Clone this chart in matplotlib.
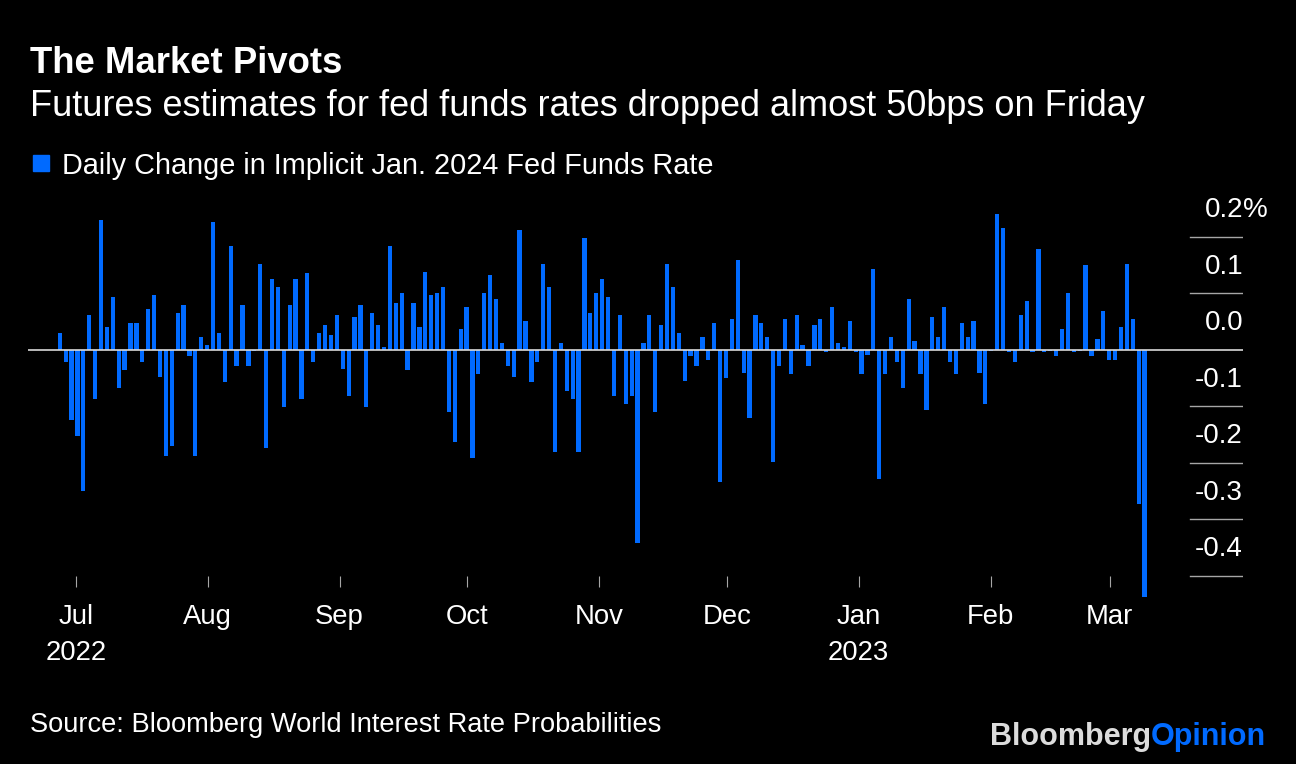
import numpy as np
import pandas as pd
import matplotlib
matplotlib.use('Agg')
import matplotlib.pyplot as plt
import matplotlib.dates as mdates
from matplotlib.patches import Rectangle

plt.rcParams['font.family'] = ['Liberation Sans', 'DejaVu Sans']

BG      = '#000000'
BLUE    = '#006aff'
TXT     = '#ffffff'
ZERO    = '#d9d9d9'
GRID    = '#a6a6a6'

# one bar per weekday, 27 Jun 2022 -> 10 Mar 2023
dates = pd.bdate_range('2022-06-27', '2023-03-10')

# daily change in implied Jan 2024 fed funds rate (pct points)
daily_change = [
    0.029, -0.023, -0.125, -0.153, -0.251, 0.061, -0.087, 0.229, 0.040, 0.093,
    -0.069, -0.037, 0.047, 0.047, -0.023, 0.071, 0.096, -0.048, -0.188, -0.171,
    0.064, 0.078, -0.012, -0.188, 0.022, 0.008, 0.226, 0.029, -0.058, 0.183,
    -0.030, 0.078, -0.030, -0.002, 0.152, -0.174, 0.124, 0.110, -0.101, 0.078,
    0.124, -0.087, 0.135, -0.023, 0.029, 0.043, 0.025, 0.061, -0.034, -0.083,
    0.057, 0.078, -0.101, 0.064, 0.043, 0.005, 0.183, 0.082, 0.100, -0.037,
    0.082, 0.040, 0.138, 0.096, 0.100, 0.110, -0.111, -0.163, 0.036, 0.075,
    -0.192, -0.044, 0.100, 0.131, 0.089, 0.011, -0.030, -0.048, 0.212, 0.050,
    -0.058, -0.023, 0.152, 0.110, -0.182, 0.011, -0.073, -0.087, -0.182, 0.198,
    0.064, 0.100, 0.124, 0.093, -0.083, 0.061, -0.097, -0.083, -0.343, 0.011,
    0.061, -0.111, 0.043, 0.152, 0.110, 0.029, -0.055, -0.012, -0.030, 0.022,
    -0.019, 0.047, -0.234, -0.051, 0.054, 0.159, -0.041, -0.122, 0.061, 0.047,
    0.022, -0.199, -0.030, 0.054, -0.044, 0.061, 0.008, -0.030, 0.043, 0.054,
    -0.005, 0.075, 0.011, 0.004, 0.050, -0.005, -0.044, -0.009, 0.142, -0.230,
    -0.044, 0.022, -0.023, -0.069, 0.089, 0.015, -0.044, -0.107, 0.057, 0.022,
    0.075, -0.023, -0.044, 0.047, 0.022, 0.050, -0.041, -0.097, -0.002, 0.240,
    0.215, -0.005, -0.023, 0.061, 0.086, -0.005, 0.177, -0.005, -0.002, -0.012,
    0.036, 0.100, -0.005, -0.002, 0.149, -0.012, 0.018, 0.068, -0.019, -0.019,
    0.040, 0.152, 0.054, -0.273, -0.438,
]

y_ticks  = [0.2, 0.1, 0.0, -0.1, -0.2, -0.3, -0.4]
months   = pd.date_range('2022-07-01', '2023-03-01', freq='MS')
month_labels = ['Jul\n2022', 'Aug', 'Sep', 'Oct', 'Nov', 'Dec', 'Jan\n2023', 'Feb', 'Mar']

fig = plt.figure(figsize=(12.96, 7.64), dpi=100, facecolor=BG)
ax = fig.add_axes([28/1296, 1 - 587/764, 1215/1296, 387/764], facecolor=BG)

# bars are spread evenly over the date range (no weekend gaps)
x = np.linspace(mdates.date2num(dates[0]) + 0.25,
                mdates.date2num(dates[-1]) - 0.8, len(dates))
ax.bar(x, daily_change, width=1.0, color=BLUE, clip_on=False, zorder=2)

jul1 = mdates.date2num(pd.Timestamp('2022-07-01'))
ax.set_xlim(jul1 - 47.7/4.255, jul1 + 1167.3/4.255)
ax.set_ylim(-237.5/565, 149.5/565)

ax.axhline(0, color=ZERO, lw=1.2, zorder=3)
for v in y_ticks:
    if v != 0:
        ax.axhline(v, xmin=1162/1215, xmax=1.0, color=GRID, lw=1.0)
    lbl = f'{v:.1f}'
    ax.annotate(lbl, xy=(1, v), xycoords=('axes fraction', 'data'),
                xytext=(0, 19), textcoords='offset points',
                ha='right', va='center', color=TXT, fontsize=20)
    if v == 0.2:
        ax.annotate('%', xy=(1, v), xycoords=('axes fraction', 'data'),
                    xytext=(0, 19), textcoords='offset points',
                    ha='left', va='center', color=TXT, fontsize=20)

ax.set_xticks(mdates.date2num(months))
ax.set_xticklabels(month_labels, linespacing=1.5)
ax.tick_params(axis='x', direction='in', length=8, width=0.8, color=GRID,
               labelcolor=TXT, labelsize=19.8, pad=12)
ax.set_yticks([])
for s in ax.spines.values():
    s.set_visible(False)

fig.text(30/1296, 1 - 73/764, 'The Market Pivots', color=TXT,
         fontsize=26.3, fontweight='bold', va='baseline')
fig.text(30/1296, 1 - 116/764,
         'Futures estimates for fed funds rates dropped almost 50bps on Friday',
         color=TXT, fontsize=26, va='baseline')

fig.patches.append(Rectangle((33/1296, 1 - 171/764), 16/1296, 16/764,
                             transform=fig.transFigure, color=BLUE))
fig.text(62/1296, 1 - 174/764, 'Daily Change in Implicit Jan. 2024 Fed Funds Rate',
         color=TXT, fontsize=20.8, va='baseline')

fig.text(30/1296, 1 - 732/764, 'Source: Bloomberg World Interest Rate Probabilities',
         color=TXT, fontsize=19.6, va='baseline')

logo = fig.text(990/1296, 1 - 745/764, 'Bloomberg', color='#dcdcdc',
                fontsize=22, fontweight='bold', va='baseline')
fig.canvas.draw()
bb = logo.get_window_extent()
fig.text(bb.x1 / 1296, 1 - 745/764, 'Opinion', color=BLUE,
         fontsize=22, fontweight='bold', va='baseline')

fig.savefig('out.png', dpi=100, facecolor=BG)
